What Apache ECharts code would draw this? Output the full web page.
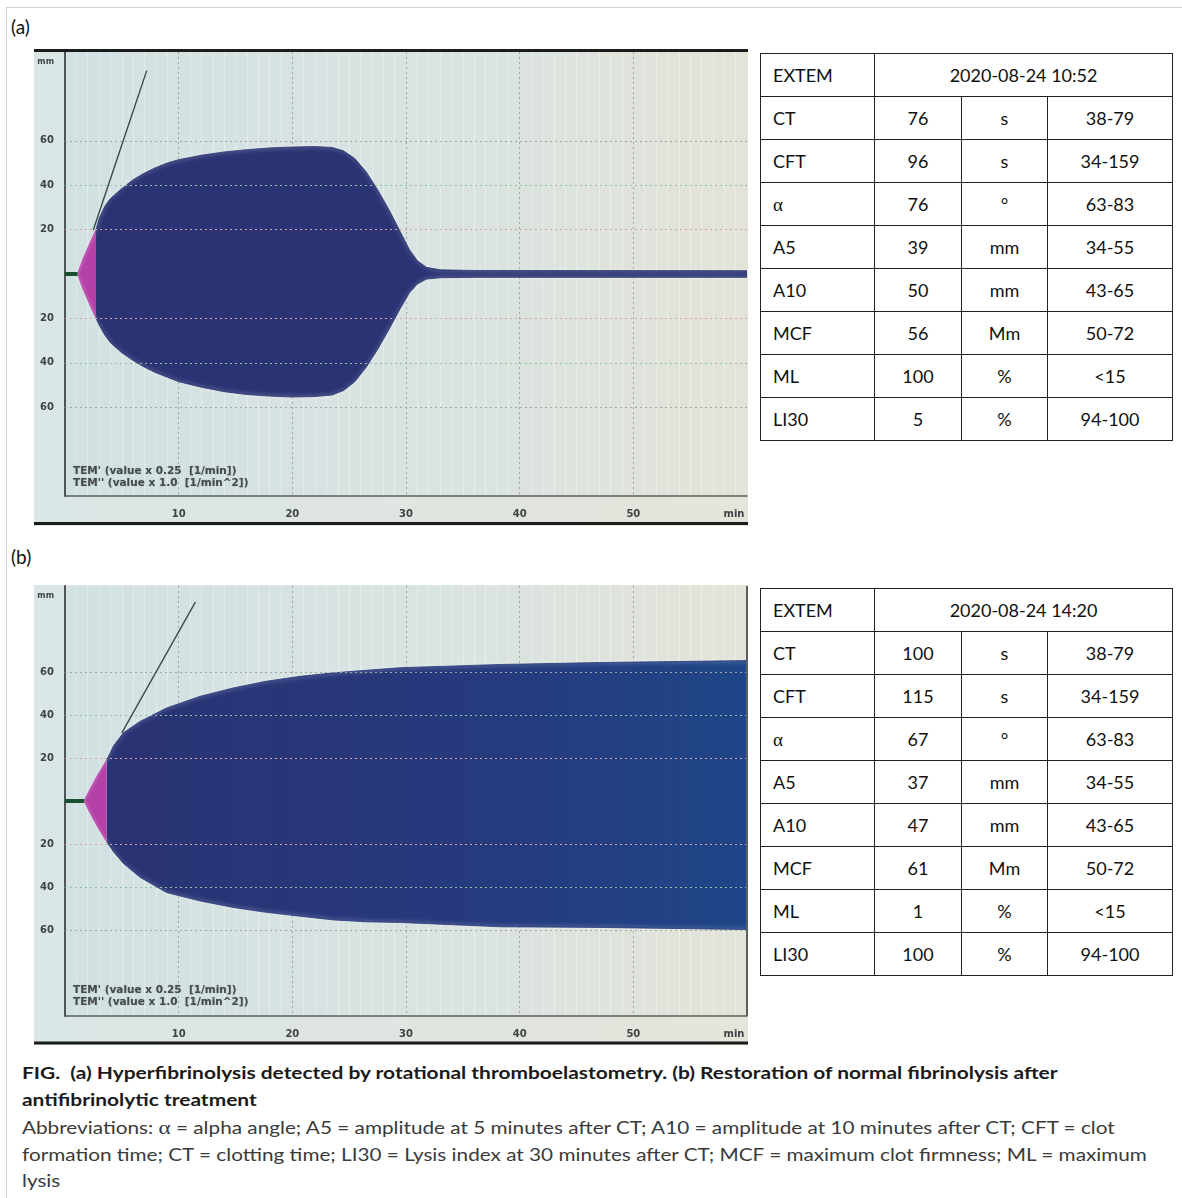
<!DOCTYPE html>
<html><head><meta charset="utf-8">
<script src="https://cdn.jsdelivr.net/npm/echarts@6/dist/echarts.min.js"></script>
<style>
body{margin:0;background:#fff;width:1182px;height:1198px;position:relative;overflow:hidden;font-family:Lato,"Noto Sans",sans-serif;color:#111;}
.frame{position:absolute;left:6px;top:7px;width:1176px;height:1191px;border-top:1px solid #d2d2d2;border-left:1px solid #d2d2d2;box-sizing:border-box;}
.plabel{position:absolute;left:11px;font-size:19px;line-height:22px;color:#111;}
.chart{position:absolute;left:34px;width:715px;}
table{position:absolute;left:760px;border-collapse:collapse;font-size:18px;table-layout:fixed;width:412px;color:#111;}
td{border:1.5px solid #222;height:42px;padding:0;text-align:center;line-height:20px;}
td.l{text-align:left;padding-left:12px;}
.al{font-family:"Liberation Serif",serif;font-size:19px;}
.cap{position:absolute;left:22px;white-space:nowrap;font-size:17px;line-height:20px;transform-origin:0 50%;}
.cap.b{font-weight:bold;color:#1a1a1a;}
.cap.n{color:#3a3a3a;}
</style></head>
<body>
<div class="frame"></div>
<div class="plabel" style="top:16px">(a)</div>
<div class="plabel" style="top:546px">(b)</div>
<div id="ca" class="chart" style="top:48px;height:480px"></div>
<div id="cb" class="chart" style="top:583px;height:466px"></div>
<table id="ta" style="top:53px"><colgroup><col style="width:114px"><col style="width:87px"><col style="width:86px"><col style="width:125px"></colgroup><tbody></tbody></table>
<table id="tb" style="top:588px"><colgroup><col style="width:114px"><col style="width:87px"><col style="width:86px"><col style="width:125px"></colgroup><tbody></tbody></table>
<div class="cap b" id="l1" style="top:1063px" data-w="1036">FIG.&nbsp; (a) Hyperfibrinolysis detected by rotational thromboelastometry. (b) Restoration of normal fibrinolysis after</div>
<div class="cap b" id="l2" style="top:1090px" data-ref="l1">antifibrinolytic treatment</div>
<div class="cap n" id="l3" style="top:1118px" data-w="1093">Abbreviations: <span class="al">α</span> = alpha angle; A5 = amplitude at 5 minutes after CT; A10 = amplitude at 10 minutes after CT; CFT = clot</div>
<div class="cap n" id="l4" style="top:1145px" data-w="1125">formation time; CT = clotting time; LI30 = Lysis index at 30 minutes after CT; MCF = maximum clot firmness; ML = maximum</div>
<div class="cap n" id="l5" style="top:1171px" data-ref="l4">lysis</div>
<script>
// ---------------- data ----------------
// Panel (a) – EXTEM 2020-08-24 10:52 (minutes, amplitude mm)
const timeA  = [2.73,3.0,3.5,4.0,5.0,6.0,7.0,8.0,9.0,10,12,14,16,18,20,22,23.5,24.5,25.5,26.5,27.5,28.5,29.5,30.3,31,31.8,33,36,60];
const upperA = [20,25,30.5,34,38.5,42.5,45.5,48,50,51.5,53.5,55,56,56.8,57.2,57.4,57,55.5,52,46,38,29,19,11,6,3,1.9,1.6,1.5];
const lowerA = [20,23,27.5,31,35.5,39,42,44.5,46.5,48.5,51,53,54.3,55,55.4,55.2,54.5,52.5,48.5,42,34,25,15.5,8.5,4.5,2.3,1.7,1.5,1.5];
const pinkTimeA = [1.1,1.6,2.2,2.73];
const pinkAmpA  = [0,7,14,20];
const baseTimeA = [0,1.1];
const alphaTimeA = [2.49,7.19];
const alphaAmpA  = [19.8,91.6];

// Panel (b) – EXTEM 2020-08-24 14:20
const timeB  = [3.67,4.25,5.13,6.6,8.94,11.9,14.8,17.7,20.7,23.6,26.5,29.5,38.3,47,60];
const upperB = [19,25.5,31.7,37,43.3,48.7,52.6,55.7,58,59.6,60.8,62,63.5,64.4,65.3];
const lowerB = [19,23.5,29,35.5,42.6,46.5,49.5,51.8,53.6,55.3,56.2,56.5,58.5,58.8,59.8];
const pinkTimeB = [1.67,2.2,2.7,3.2,3.67];
const pinkAmpB  = [0,5.5,10.5,15,19];
const baseTimeB = [0,1.67];
const alphaTimeB = [5.0,11.47];
const alphaAmpB  = [31.7,92.5];

// axis tick labels
const xTickLabels = {10:'10',20:'20',30:'30',40:'40',50:'50',60:'min'};
const yTickLabels = [20,40,60];
const temLines = ["TEM' (value x 0.25  [1/min])", "TEM'' (value x 1.0  [1/min^2])"];

// tables
const rowNames = ['CT','CFT','α','A5','A10','MCF','ML','LI30'];
const unitsCol = ['s','s','°','mm','mm','Mm','%','%'];
const rangeCol = ['38-79','34-159','63-83','34-55','43-65','50-72','<15','94-100'];
const valuesA = [76,96,76,39,50,56,100,5];
const valuesB = [100,115,67,37,47,61,1,100];
const stampA = '2020-08-24 10:52';
const stampB = '2020-08-24 14:20';

// ---------------- tables ----------------
function buildTable(id, stamp, values){
  let h = '<tr><td class="l">EXTEM</td><td colspan="3">'+stamp+'</td></tr>';
  rowNames.forEach((n,i)=>{
    const nm = n==='α' ? '<span class="al">α</span>' : n;
    h += '<tr><td class="l">'+nm+'</td><td>'+values[i]+'</td><td>'+unitsCol[i]+'</td><td>'+rangeCol[i].replace('<','&lt;')+'</td></tr>';
  });
  document.querySelector('#'+id+' tbody').innerHTML = h;
}
buildTable('ta', stampA, valuesA);
buildTable('tb', stampB, valuesB);

// ---------------- caption fitting ----------------
const scales = {};
document.querySelectorAll('.cap').forEach(el=>{
  let s;
  if (el.dataset.w) { s = (+el.dataset.w) / el.scrollWidth; scales[el.id] = s; }
  else s = scales[el.dataset.ref] || 1;
  el.style.transform = 'scaleX('+s+')';
});

// ---------------- charts ----------------
const NAVY = '#2a3373';
const LBL_FONT = '"DejaVu Sans", sans-serif';
function pairs(t, v, sign){ return t.map((x,i)=>[x, sign*v[i]]); }

function buildOption(p){
  const W = 715, gl = 31, gw = 682;
  const edge = {color: p.navy, width: 0.8, shadowColor:'rgba(255,255,255,0.85)', shadowBlur:4};
  const area = {color: p.areaColor, opacity: 1};
  const yGrid = [
    {v:60,c:'#9fa7a0'},{v:40,c:'#8cc29f'},{v:20,c:'#d9a3a6'},
    {v:-20,c:'#d9a3a6'},{v:-40,c:'#8cc29f'},{v:-60,c:'#9fa7a0'}
  ];
  const graphic = [
    {type:'rect', z:-10, shape:{x:0,y:p.photoTop,width:W-1,height:p.photoBottom-p.photoTop},
      style:{fill:new echarts.graphic.LinearGradient(0,0,1,0,[{offset:0,color:'#dae6e6'},{offset:1,color:'#e4e4da'}])}},
    {type:'line', z:50, shape:{x1:0,y1:p.bottomLine,x2:W-1,y2:p.bottomLine}, style:{stroke:'#1c1c1c',lineWidth:3}},
    {type:'text', z:50, x:39, y:p.temY, style:{text:temLines[0], fill:'#454c4b', font:'bold 10.5px '+LBL_FONT, textShadowColor:'rgba(60,70,70,0.35)', textShadowBlur:1.5}},
    {type:'text', z:50, x:39, y:p.temY+11.5, style:{text:temLines[1], fill:'#454c4b', font:'bold 10.5px '+LBL_FONT, textShadowColor:'rgba(60,70,70,0.35)', textShadowBlur:1.5}}
  ];
  if (p.topLine) graphic.push({type:'line', z:50, shape:{x1:0,y1:p.topLine,x2:W-1,y2:p.topLine}, style:{stroke:'#1c1c1c',lineWidth:3}});
  if (p.rightLine) graphic.push({type:'line', z:50, shape:{x1:gl+gw,y1:p.gridTop,x2:gl+gw,y2:p.gridTop+p.gridH}, style:{stroke:'#5b605f',lineWidth:2}});
  return {
    animation:false,
    graphic: graphic,
    grid:{left:gl, top:p.gridTop, width:gw, height:p.gridH, show:true, borderWidth:0,
      backgroundColor:new echarts.graphic.LinearGradient(0,0,1,0,[{offset:0,color:'#d2e1e2'},{offset:0.55,color:'#d9e3e1'},{offset:1,color:'#e3e3d8'}])},
    xAxis:{type:'value', min:0, max:60, interval:10,
      axisLine:{show:true, onZero:false, lineStyle:{color:'#5b605f', width:1.5}},
      axisTick:{show:false},
      axisLabel:{margin:13, color:'#3d4443', fontSize:10, fontWeight:'bold', fontFamily:LBL_FONT,
        formatter:v=> xTickLabels[v] ? (v===60 ? '{m|min}' : xTickLabels[v]) : '',
        rich:{m:{padding:[0,26,0,0], color:'#3d4443', fontSize:10, fontWeight:'bold', fontFamily:LBL_FONT}}},
      splitLine:{show:true, showMinLine:false, showMaxLine:false, lineStyle:{color:'#9ea6a3', type:[2,3], width:1}},
      minorTick:{show:false, splitNumber:10},
      minorSplitLine:{show:true, lineStyle:{color:'rgba(255,255,255,0.35)', width:1}}
    },
    yAxis:{type:'value', min:-100, max:100, interval:20,
      name:'mm', nameLocation:'end', nameGap:-14,
      nameTextStyle:{align:'right', padding:[0,11,0,0], color:'#3d4443', fontSize:8, fontWeight:'bold', fontFamily:LBL_FONT},
      axisLine:{show:true, onZero:false, lineStyle:{color:'#4f5554', width:2}},
      axisTick:{show:false},
      axisLabel:{margin:11, color:'#3d4443', fontSize:10, fontWeight:'bold', fontFamily:LBL_FONT,
        formatter:v=> yTickLabels.indexOf(Math.abs(v))>=0 ? String(Math.abs(v)) : ''},
      splitLine:{show:false}
    },
    series:[
      {type:'line', data:[], silent:true, z:1,
        markLine:{silent:true, symbol:'none', label:{show:false},
          data: yGrid.map(g=>({yAxis:g.v, lineStyle:{color:g.c, type:[2,3], width:1.2}}))}},
      {type:'line', data:pairs(p.time,p.upper,1), symbol:'none', z:3, lineStyle:edge, areaStyle:area},
      {type:'line', data:pairs(p.time,p.lower,-1), symbol:'none', z:3, lineStyle:edge, areaStyle:area},
      {type:'line', data:pairs(p.pinkTime,p.pinkAmp,1), symbol:'none', z:4, lineStyle:{color:'#b441a8', width:0.8, shadowColor:'rgba(255,220,250,0.9)', shadowBlur:3}, areaStyle:{color:'#b441a8', opacity:1}},
      {type:'line', data:pairs(p.pinkTime,p.pinkAmp,-1), symbol:'none', z:4, lineStyle:{color:'#b441a8', width:0.8, shadowColor:'rgba(255,220,250,0.9)', shadowBlur:3}, areaStyle:{color:'#b441a8', opacity:1}},
      {type:'line', data:p.baseTime.map(t=>[t,0]), symbol:'none', z:5, lineStyle:{color:'#17502f', width:4}},
      {type:'line', data:pairs(p.alphaTime,p.alphaAmp,1), symbol:'none', z:6, lineStyle:{color:'#3c4a48', width:1.4}}
    ]
  };
}

const chartA = echarts.init(document.getElementById('ca'), null, {renderer:'canvas'});
chartA.setOption(buildOption({
  time:timeA, upper:upperA, lower:lowerA, pinkTime:pinkTimeA, pinkAmp:pinkAmpA,
  baseTime:baseTimeA, alphaTime:alphaTimeA, alphaAmp:alphaAmpA,
  navy:NAVY, areaColor:NAVY,
  gridTop:4, gridH:444, photoTop:2, photoBottom:478, topLine:2.5, bottomLine:475.5, temY:418, rightLine:false
}));

const chartB = echarts.init(document.getElementById('cb'), null, {renderer:'canvas'});
chartB.setOption(buildOption({
  time:timeB, upper:upperB, lower:lowerB, pinkTime:pinkTimeB, pinkAmp:pinkAmpB,
  baseTime:baseTimeB, alphaTime:alphaTimeB, alphaAmp:alphaAmpB,
  navy:'#27377a',
  areaColor:new echarts.graphic.LinearGradient(0,0,1,0,[{offset:0,color:'#2a3373'},{offset:0.6,color:'#263a7e'},{offset:1,color:'#1f4688'}]),
  gridTop:3, gridH:430, photoTop:2, photoBottom:462, topLine:0, bottomLine:460, temY:402, rightLine:true
}));
</script>
</body></html>
